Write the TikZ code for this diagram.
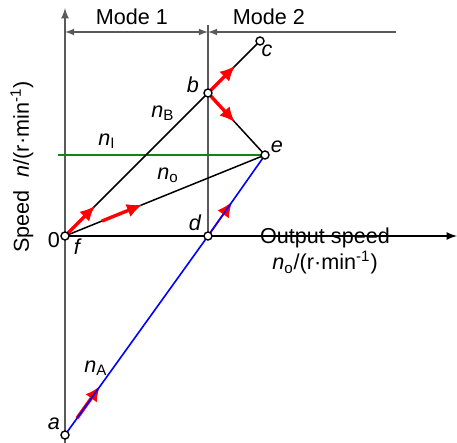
\documentclass[tikz,border=0pt]{standalone}
\usepackage{fontspec}
\setmainfont{Liberation Sans}
\usetikzlibrary{calc,arrows.meta}

\definecolor{axisgray}{RGB}{90,90,90}
\definecolor{lgreen}{RGB}{20,130,20}

\tikzset{
  dot/.style={circle,draw,fill=white,inner sep=0pt,minimum size=4pt,line width=.7pt},
  line/.style={line width=.75pt},
  flow/.style={-{Latex[length=7.5pt,width=7pt]},red,line width=1.7pt},
  lab/.style={font=\fontsize{10.8}{12}\selectfont\itshape}
}

\begin{document}
\begin{tikzpicture}[x=.5pt,y=-.5pt,>=latex,font=\fontsize{10.8}{12.5}\selectfont]
 \useasboundingbox (0,0) rectangle (457,443);
 % points of the diagram
 \coordinate (f) at (65,236);
 \coordinate (b) at (208,93);
 \coordinate (c) at (260,41);
 \coordinate (e) at (265,155);
 \coordinate (d) at (208,236);
 \coordinate (a) at (65,435);
 % axes and mode marks
 \coordinate (ybot) at (65,443);
 \coordinate (ytop) at (65,8);
 \coordinate (xend) at (457,236);
 \coordinate (mtop) at (208,25);
 \coordinate (ml) at (65,32);
 \coordinate (mm) at (208,32);
 \coordinate (mr) at (396,32);
 \coordinate (gl) at (58,155);
 \draw[->,axisgray,line width=.8pt] (ybot) -- (ytop);
 \draw[->,line width=.8pt] (f) -- (xend);
 \draw[axisgray,line width=.6pt] (d) -- (mtop);
 \draw[<->,axisgray,line width=.6pt] (ml) -- (mm);
 \draw[<-,axisgray,line width=.6pt] (mm) -- (mr);
 \node (mode1) at (132,17) {Mode 1};
 \node (mode2) at (269,17) {Mode 2};
 % speed lines
 \draw[lgreen,line width=.8pt] (gl) -- (e);
 \draw[line] (f) -- (b) -- (c);
 \draw[line] (b) -- (e);
 \draw[line] (f) -- (e);
 % red arrows
 \draw[flow] (f) -- ($(f)!.21!(b)$);
 \draw[flow] ($(f)!.185!(e)$) -- ($(f)!.385!(e)$);
 \draw[flow] (b) -- ($(b)!.52!(c)$);
 \draw[flow] (b) -- ($(b)!.47!(e)$);
 \draw[flow,line width=.9pt,shorten <=2pt] (d) -- ($(d)!.42!(e)$);
 \draw[flow] ($(a)!.06!(e)$) -- ($(a)!.175!(e)$);
 \draw[blue,line width=.8pt] (a) -- (d) -- (e);
 % circles
 \foreach \p in {a,b,c,d,e,f} \node[dot] (\p dot) at (\p) {};
 % labels
 \node[lab] (lb) at (193,85) {b};
 \node[lab] (lc) at (267,51) {c};
 \node[lab] (le) at (277,147) {e};
 \node[lab] (ld) at (195,223) {d};
 \node[lab] (lf) at (77,247) {f};
 \node[lab] (la) at (54,424) {a};
 \node (l0) at (54,240) {0};
 \node (nA) at (96,368) {\textit{n}\textsubscript{A}};
 \node (nB) at (163,113) {\textit{n}\textsubscript{B}};
 \node (nI) at (107,141) {\textit{n}\textsubscript{I}};
 \node (no) at (168,175) {\textit{n}\textsubscript{o}};
 \node (xl1) at (325,238) {Output speed};
 \node (xl2) at (325,263) {\textit{n}\textsubscript{o}/(r·min\textsuperscript{-1})};
 \node[rotate=90] (yl) at (22,167) {Speed\hspace{.6em}\textit{n}/(r·min\textsuperscript{-1})};
\end{tikzpicture}
\end{document}
